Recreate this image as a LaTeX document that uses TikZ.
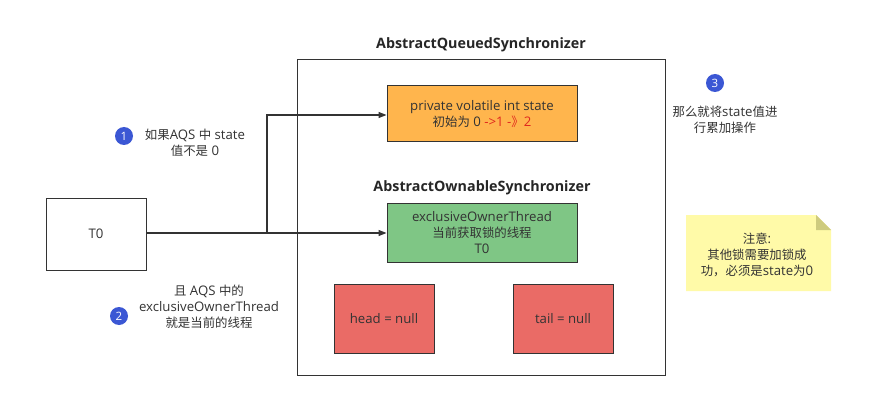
\documentclass[tikz,border=0pt]{standalone}
\usepackage{fontspec}
\setmainfont{Open Sans}
\newfontfamily\zhf[Scale=0.94]{Noto Sans CJK SC}
\newcommand{\zh}[1]{{\zhf #1}}
\usetikzlibrary{arrows.meta}
\definecolor{orangef}{HTML}{FFB54D}
\definecolor{greenf}{HTML}{7FC685}
\definecolor{redf}{HTML}{EA6B66}
\definecolor{notef}{HTML}{FFFAA8}
\definecolor{notefold}{HTML}{CECB7E}
\definecolor{badge}{HTML}{3B57D4}
\definecolor{txt}{HTML}{333333}
\definecolor{redt}{HTML}{E0281E}
\tikzset{
  box/.style={draw=black!80, line width=1pt, minimum width=100pt, minimum height=70pt, font=\fontsize{13.2}{16}\selectfont, text=txt, align=center},
  num/.style={circle, fill=badge, text=white, minimum size=18pt, inner sep=0pt, font=\fontsize{11.5}{13}\selectfont},
  lbl/.style={text=txt, align=center, font=\fontsize{13.2}{16}\selectfont},
  ttl/.style={font=\bfseries\fontsize{14.3}{16}\selectfont, text=black!85},
  conn/.style={draw=black!80, line width=1.2pt, -{Triangle[length=8pt,width=6pt]}}
}
\begin{document}
\begin{tikzpicture}[x=1pt,y=-1pt]
\fill[white] (0,0) rectangle (880,406);
\useasboundingbox (0,0) rectangle (880,406);
\node[draw=black!80, line width=1pt, minimum width=368pt, minimum height=315pt] (aqs) at (481,217.5) {};
\node[ttl] (aqst) at (481,45) {AbstractQueuedSynchronizer};
\node[box, fill=orangef, minimum width=190pt, minimum height=56pt] (state) at (482,114) {private volatile int state\\\zh{初始为} 0 \textcolor{redt}{->1 -\zh{》}2}};
\node[ttl] (aost) at (482,188) {AbstractOwnableSynchronizer};
\node[box, fill=greenf, minimum width=190pt, minimum height=59pt] (owner) at (482,232.5) {exclusiveOwnerThread\\\zh{当前获取锁的线程}\\T0};
\node[box, fill=redf, minimum width=100pt, minimum height=69pt] (head) at (384,318.5) {head = null};
\node[box, fill=redf, minimum width=100pt, minimum height=69pt] (tail) at (563,318.5) {tail = null};
\node[box, fill=white, minimum width=100pt, minimum height=72pt] (t0) at (96,234) {T0};
\coordinate (bend1) at (267,233);
\coordinate (bend2) at (267,115);
\draw[conn] (t0.east |- bend1) -- (bend1) -- (bend2) -- (state.west |- bend2);
\draw[conn] (t0.east |- bend1) -- (owner.west |- bend1);
\node[num] (n1) at (124,136) {1};
\node[lbl] (l1) at (195,143) {\zh{如果}AQS \zh{中} state\\\zh{值不是} 0};
\node[num] (n2) at (119,316) {2};
\node[lbl] (l2) at (209,307) {\zh{且} AQS \zh{中的}\\exclusiveOwnerThread\\\zh{就是当前的线程}};
\node[num] (n3) at (715,83) {3};
\node[lbl] (l3) at (725,120) {\zh{那么就将}state\zh{值进}\\\zh{行累加操作}};
\fill[notef] (686,215) -- (816,215) -- (831,230) -- (831,291) -- (686,291) -- cycle;
\fill[notefold] (816,215) -- (831,230) -- (816,230) -- cycle;
\node[lbl] (note) at (757,255) {\zh{注意}:\\\zh{其他锁需要加锁成}\\\zh{功，必须是}state\zh{为}0};
\end{tikzpicture}
\end{document}
